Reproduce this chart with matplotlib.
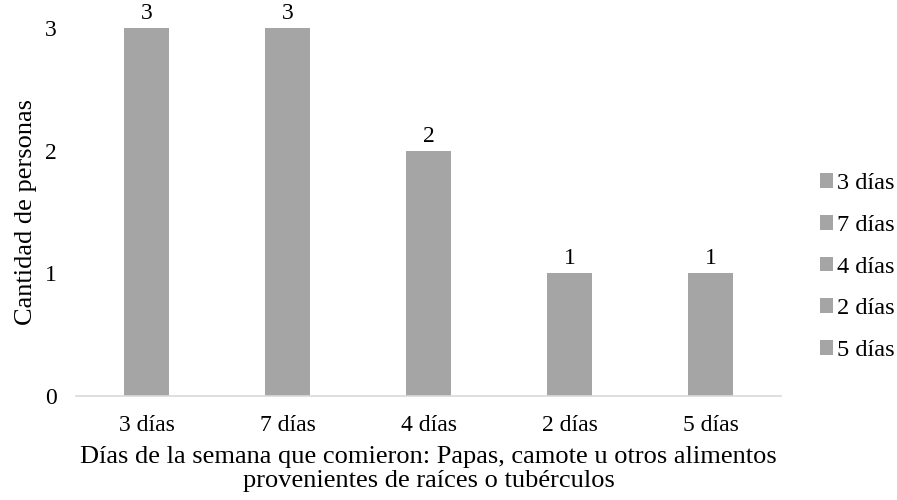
import matplotlib.pyplot as plt

categories = ["3 días", "7 días", "4 días", "2 días", "5 días"]
values = [3, 3, 2, 1, 1]

plt.rcParams['font.family'] = ['Liberation Serif', 'DejaVu Serif']

fig = plt.figure(figsize=(8.97, 5), dpi=100)
ax = fig.add_axes([0.085, 0.208, 0.786, 0.736])

pos = list(range(len(categories)))
for i, (cat, val) in enumerate(zip(categories, values)):
    b = ax.bar(i, val, width=0.32, color='#A5A5A5', label=cat)
    ax.bar_label(b, fontsize=17, padding=3)

ax.set_xlim(-0.5, len(categories) - 0.5)
ax.set_ylim(0, 3)
ax.set_yticks([0, 1, 2, 3])
ax.set_xticks(pos)
ax.set_xticklabels(categories)
ax.tick_params(axis='both', length=0, labelsize=17)
ax.tick_params(axis='x', pad=14)
ax.tick_params(axis='y', pad=14)

for s in ['top', 'right', 'left']:
    ax.spines[s].set_visible(False)
ax.spines['bottom'].set_color('#D9D9D9')
ax.spines['bottom'].set_linewidth(1.2)

ax.set_ylabel("Cantidad de personas", fontsize=19, labelpad=6)
ax.set_xlabel("Días de la semana que comieron: Papas, camote u otros alimentos\nprovenientes de raíces o tubérculos",
              fontsize=19, labelpad=7, linespacing=1.08)

ax.legend(loc='center left', bbox_to_anchor=(1.024, 0.35), frameon=False, fontsize=17.5,
          handlelength=0.55, handleheight=0.55, handletextpad=0.13, labelspacing=0.85)

fig.savefig('out.png', dpi=100)
